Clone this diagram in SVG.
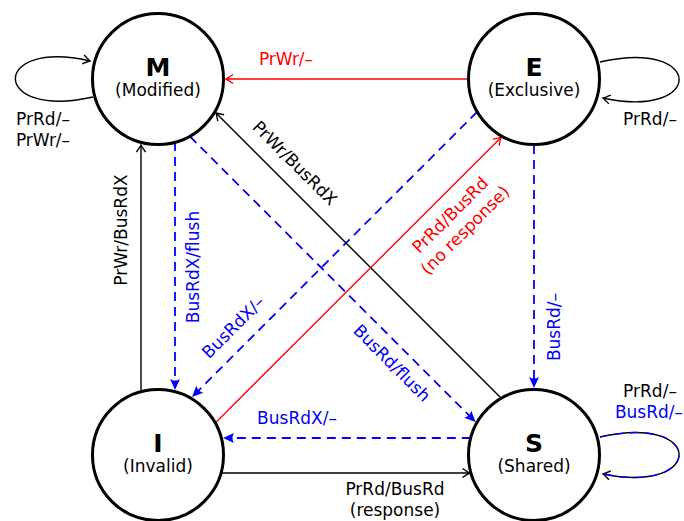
<svg xmlns="http://www.w3.org/2000/svg" width="684" height="521" viewBox="0 0 684 521">
<style>
text{font-family:"DejaVu Sans","Liberation Sans",sans-serif;font-size:17px;fill:#000}
.st{fill:#fff;stroke:#000;stroke-width:3}
.big{font-weight:bold;font-size:25px}
.k{fill:none;stroke:#000;stroke-width:1.4}
.r{fill:none;stroke:#f00;stroke-width:1.4}
.b{fill:none;stroke:#00f;stroke-width:1.8;stroke-dasharray:9 6}
.bt{fill:#00f}
.rt{fill:#f00}
</style>
<defs>
<marker id="ak" markerUnits="userSpaceOnUse" viewBox="-10 -6 12 12" refX="0" refY="0" markerWidth="12" markerHeight="12" orient="auto">
<path d="M-7 -4.5 Q-2 -1 0 0 Q-2 1 -7 4.5" fill="none" stroke="#000" stroke-width="1.4"/>
</marker>
<marker id="ar" markerUnits="userSpaceOnUse" viewBox="-10 -6 12 12" refX="0" refY="0" markerWidth="12" markerHeight="12" orient="auto">
<path d="M-7 -4.5 Q-2 -1 0 0 Q-2 1 -7 4.5" fill="none" stroke="#f00" stroke-width="1.4"/>
</marker>
<marker id="ab" markerUnits="userSpaceOnUse" viewBox="-4 -7 14 14" refX="0" refY="0" markerWidth="14" markerHeight="14" orient="auto">
<path d="M8 0 L-3 -5 Q0 0 -3 5 Z" fill="#00f"/>
</marker>
</defs>
<g id="connectors">
<path class="k" d="M93 97 C-10 120 -10 38 90 61" marker-end="url(#ak)"/>
<path class="k" d="M600 62 C705 38 705 120 603 98" marker-end="url(#ak)"/>
<path class="k" d="M600 437 C705 413 705 495 603 474" marker-end="url(#ak)"/>
<path d="M600 437 C705 413 705 495 603 474" fill="none" stroke="#00f" stroke-width="1.4" stroke-dasharray="9 6"/>
<path class="r" d="M468 79 L226 79" marker-end="url(#ar)"/>
<path class="k" d="M141 390 L141 145" marker-end="url(#ak)"/>
<path class="b" d="M175 142 L175 382" marker-end="url(#ab)"/>
<path class="b" d="M477 112 L197.7 391.3" marker-end="url(#ab)"/>
<path class="b" d="M190 136.5 L469.9 416.3" marker-end="url(#ab)"/>
<path class="k" d="M501 398 L216 113" marker-end="url(#ak)"/>
<path class="r" d="M215.3 423 L501 137.4" marker-end="url(#ar)"/>
<path class="b" d="M534 145 L534 380" marker-end="url(#ab)"/>
<path class="b" d="M470.8 438 L231 438" marker-end="url(#ab)"/>
<path class="k" d="M221 473 L469.5 473" marker-end="url(#ak)"/>
<text x="43" y="125" text-anchor="middle">PrRd/–</text>
<text x="43" y="146" text-anchor="middle">PrWr/–</text>
<text x="650" y="125" text-anchor="middle">PrRd/–</text>
<text x="650" y="397" text-anchor="middle">PrRd/–</text>
<text class="bt" x="649" y="418" text-anchor="middle">BusRd/–</text>
<text class="rt" x="286" y="65" text-anchor="middle">PrWr/–</text>
<text transform="translate(127,230) rotate(-90)" text-anchor="middle">PrWr/BusRdX</text>
<text class="bt" transform="translate(199,267) rotate(-90)" text-anchor="middle">BusRdX/flush</text>
<text class="bt" transform="translate(560,327) rotate(-90)" text-anchor="middle">BusRd/–</text>
<text class="bt" transform="translate(233,327) rotate(-45)" y="6" text-anchor="middle">BusRdX/–</text>
<text class="bt" transform="translate(392,363) rotate(45)" y="6" text-anchor="middle">BusRd/flush</text>
<text transform="translate(295,163) rotate(45)" y="6" text-anchor="middle">PrWr/BusRdX</text>
<text class="rt" transform="translate(450,215) rotate(-45)" y="6" text-anchor="middle">PrRd/BusRd</text>
<text class="rt" transform="translate(465,230) rotate(-45)" y="6" text-anchor="middle">(no response)</text>
<text class="bt" x="297" y="424" text-anchor="middle">BusRdX/–</text>
<text x="395" y="495" text-anchor="middle">PrRd/BusRd</text>
<text x="395" y="516" text-anchor="middle">(response)</text>
</g>
<g id="M">
<circle class="st" cx="158" cy="79" r="65.5"/>
<text class="big" x="158" y="76" text-anchor="middle">M</text>
<text x="158" y="96" text-anchor="middle">(Modified)</text>
</g>
<g id="E">
<circle class="st" cx="534" cy="79" r="65.5"/>
<text class="big" x="534" y="76" text-anchor="middle">E</text>
<text x="534" y="96" text-anchor="middle">(Exclusive)</text>
</g>
<g id="I">
<circle class="st" cx="158" cy="455" r="65.5"/>
<text class="big" x="158" y="452" text-anchor="middle">I</text>
<text x="158" y="472" text-anchor="middle">(Invalid)</text>
</g>
<g id="S">
<circle class="st" cx="534" cy="455" r="65.5"/>
<text class="big" x="534" y="452" text-anchor="middle">S</text>
<text x="534" y="472" text-anchor="middle">(Shared)</text>
</g>
</svg>
